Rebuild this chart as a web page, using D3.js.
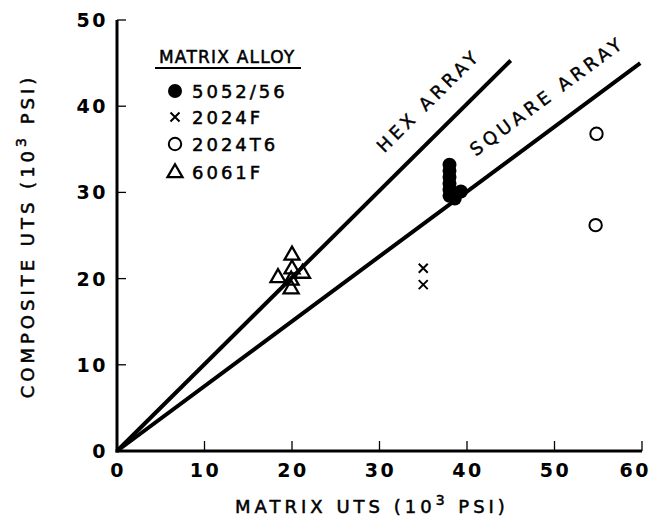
<!DOCTYPE html>
<html><head><meta charset="utf-8">
<script src="https://cdn.jsdelivr.net/npm/d3@7"></script>
<style>body{margin:0;background:#fff}svg{display:block}text{font-family:"DejaVu Sans",sans-serif;fill:#000}</style>
</head><body>
<svg id="c" width="653" height="523"></svg>
<script>
const xTicks = [0,10,20,30,40,50,60];
const yTicks = [0,10,20,30,40,50];
const alloy5052 = [[38,33.2],[38,32.5],[38,31.8],[38,31.0],[38,30.3],[38,29.6],[38.6,29.3],[39.3,30.1]];
const alloy2024F = [[35,21.2],[35,19.3]];
const alloy2024T6 = [[54.8,36.8],[54.7,26.2]];
const alloy6061F = [[20,22.8],[20,21.2],[18.4,20.2],[21.2,20.7],[19.9,19.9],[19.9,18.9]];
const hexLine = [[0,0],[45,45.3]];
const squareLine = [[0,0],[59.8,45]];
const legendTitle = "MATRIX ALLOY";
const legendLabels = ["5052/56","2024F","2024T6","6061F"];

const svg = d3.select("#c");
const x = d3.scaleLinear([0,60],[117,642]);
const y = d3.scaleLinear([0,50],[451,20]);

// axes
svg.append("line").attr("x1",x(0)).attr("x2",x(0)).attr("y1",y(0)+1.5).attr("y2",y(50)).attr("stroke","#000").attr("stroke-width",3);
svg.append("line").attr("x1",x(0)-1.5).attr("x2",x(60)).attr("y1",y(0)).attr("y2",y(0)).attr("stroke","#000").attr("stroke-width",3);
// inward ticks
svg.selectAll(".yt").data(yTicks.filter(d=>d>0)).enter().append("line")
  .attr("x1",x(0)).attr("x2",x(0)+9).attr("y1",d=>y(d)).attr("y2",d=>y(d)).attr("stroke","#000").attr("stroke-width",1.3);
svg.selectAll(".xt").data(xTicks.filter(d=>d>0)).enter().append("line")
  .attr("x1",d=>x(d)).attr("x2",d=>x(d)).attr("y1",y(0)).attr("y2",y(0)-10).attr("stroke","#000").attr("stroke-width",1.3);
// tick labels
svg.selectAll(".yl").data(yTicks).enter().append("text")
  .attr("x",x(0)-9).attr("y",d=>y(d)+7).attr("text-anchor","end")
  .attr("font-size",19).attr("font-weight","bold").attr("letter-spacing",2.5).text(d=>d);
svg.selectAll(".xl").data(xTicks).enter().append("text")
  .attr("x",d=>d===60?651:x(d)+1).attr("y",y(0)+26).attr("text-anchor",d=>d===60?"end":"middle")
  .attr("font-size",19).attr("font-weight","bold").attr("letter-spacing",2.5).text(d=>d);

// axis titles
const titleStyle = s=>s.attr("font-size",18).attr("letter-spacing",4).attr("stroke","#000").attr("stroke-width",0.5);
const xt = svg.append("text").attr("x",372).attr("y",513).attr("text-anchor","middle").call(titleStyle);
xt.append("tspan").text("MATRIX UTS (10");
xt.append("tspan").attr("font-size",14).attr("dy",-8).text("3");
xt.append("tspan").attr("dy",8).text(" PSI)");
const yt = svg.append("text").attr("transform","translate(34,236) rotate(-90)").attr("text-anchor","middle").call(titleStyle);
yt.append("tspan").text("COMPOSITE UTS (10");
yt.append("tspan").attr("font-size",14).attr("dy",-8).text("3");
yt.append("tspan").attr("dy",8).text(" PSI)");

// lines
const line = d3.line().x(d=>x(d[0])).y(d=>y(d[1]));
svg.append("path").attr("d",line(hexLine)).attr("stroke","#000").attr("stroke-width",4).attr("fill","none");
svg.append("path").attr("d",line(squareLine)).attr("stroke","#000").attr("stroke-width",4).attr("fill","none");

// line labels
function angleOf(seg){const dx=x(seg[1][0])-x(seg[0][0]);const dy=y(seg[1][1])-y(seg[0][1]);return Math.atan2(dy,dx)*180/Math.PI;}
svg.append("text").attr("transform",`translate(433,105) rotate(${angleOf(hexLine)})`).attr("text-anchor","middle")
  .attr("font-size",18).attr("letter-spacing",4).attr("stroke","#000").attr("stroke-width",0.4).text("HEX ARRAY");
svg.append("text").attr("transform",`translate(551,101) rotate(${angleOf(squareLine)})`).attr("text-anchor","middle")
  .attr("font-size",18).attr("letter-spacing",4).attr("stroke","#000").attr("stroke-width",0.4).text("SQUARE ARRAY");

// marker drawers
function dot(g,cx,cy){g.append("circle").attr("cx",cx).attr("cy",cy).attr("r",7).attr("fill","#000");}
function cross(g,cx,cy){const s=4.5;g.append("path").attr("d",`M${cx-s},${cy-s}L${cx+s},${cy+s}M${cx-s},${cy+s}L${cx+s},${cy-s}`).attr("stroke","#000").attr("stroke-width",2).attr("fill","none");}
function ring(g,cx,cy){g.append("circle").attr("cx",cx).attr("cy",cy).attr("r",6.2).attr("fill","none").attr("stroke","#000").attr("stroke-width",2);}
function tri(g,cx,cy){const w=7.5,h=13;g.append("path").attr("d",`M${cx},${cy-h*0.6}L${cx+w},${cy+h*0.4}L${cx-w},${cy+h*0.4}Z`).attr("fill","none").attr("stroke","#000").attr("stroke-width",2.3).attr("stroke-linejoin","miter");}

const pts = svg.append("g");
alloy6061F.forEach(d=>tri(pts,x(d[0]),y(d[1])));
alloy2024F.forEach(d=>cross(pts,x(d[0]),y(d[1])));
alloy2024T6.forEach(d=>ring(pts,x(d[0]),y(d[1])));
alloy5052.forEach(d=>dot(pts,x(d[0]),y(d[1])));

// legend
const lg = svg.append("g");
lg.append("text").attr("x",159).attr("y",63).attr("font-size",17).attr("letter-spacing",1.2)
  .attr("stroke","#000").attr("stroke-width",0.5).text(legendTitle);
lg.append("line").attr("x1",155).attr("x2",301).attr("y1",68).attr("y2",68).attr("stroke","#000").attr("stroke-width",1.8);
const drawers=[dot,cross,ring,tri];
const rowY=[91,117,144,172];
legendLabels.forEach((t,i)=>{
  drawers[i](lg,175,rowY[i]);
  lg.append("text").attr("x",192).attr("y",rowY[i]+6.5).attr("font-size",18).attr("letter-spacing",3)
    .attr("stroke","#000").attr("stroke-width",0.5).text(t);
});
</script>
</body></html>
